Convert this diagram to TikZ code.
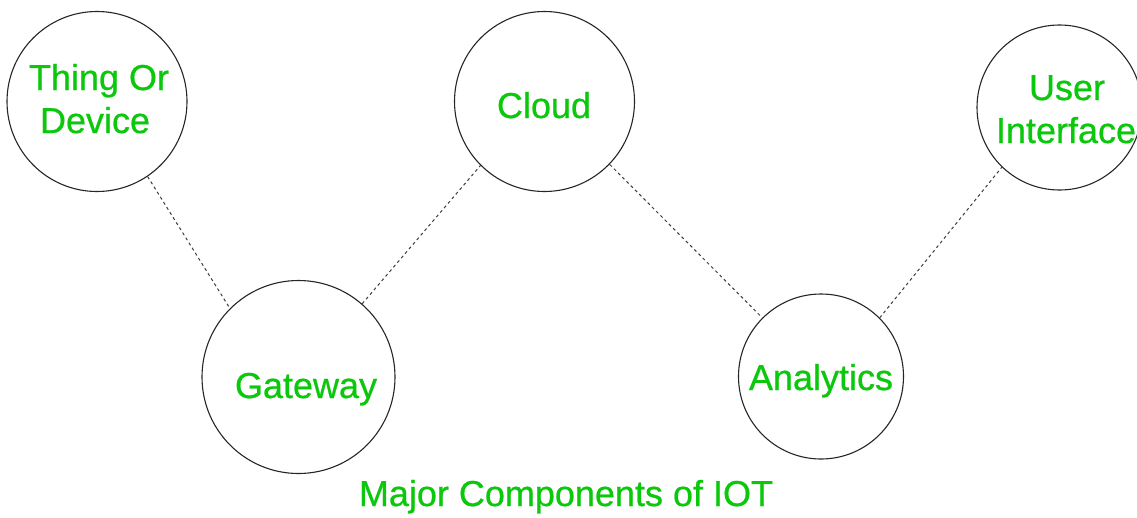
\documentclass[tikz,border=0pt]{standalone}
\usepackage{fontspec}
\setmainfont{Liberation Sans}
\newfontfamily\labelfont[FakeBold=0.7]{Liberation Sans}
\definecolor{labelgreen}{RGB}{12,200,12}
\definecolor{linkgray}{RGB}{60,60,60}
\tikzset{
  part/.style={draw=black!85, line width=1.1pt, circle, inner sep=0pt},
  partlabel/.style={text=labelgreen, font=\labelfont\fontsize{36}{42}\selectfont, align=center, anchor=base, inner sep=0pt},
  link/.style={draw=linkgray, line width=1pt, dash pattern=on 3pt off 3pt},
}
\begin{document}
\begin{tikzpicture}[x=1pt, y=-1pt]
  \useasboundingbox (0,0) rectangle (1137,517);
  \fill[white] (0,0) rectangle (1137,517);

  % components
  \node[part, minimum size=180pt] (thing)     at (97,101.5)   {};
  \node[part, minimum size=180pt] (cloud)     at (544.5,101.5) {};
  \node[part, minimum size=165pt] (ui)        at (1059.5,107.5) {};
  \node[part, minimum size=193pt] (gateway)   at (298.5,377)  {};
  \node[part, minimum size=165pt] (analytics) at (821,376.5)  {};

  % names
  \node[partlabel] (thing-t1) at (99,90)    {Thing Or};
  \node[partlabel] (thing-t2) at (95,133)   {Device};
  \node[partlabel] (cloud-t)  at (544,118)  {Cloud};
  \node[partlabel] (ui-t1)    at (1067,100) {User};
  \node[partlabel] (ui-t2)    at (1066,143) {Interface};
  \node[partlabel] (gw-t)     at (306,398)  {Gateway};
  \node[partlabel] (an-t)     at (821,390)  {Analytics};

  % links
  \draw[link] (thing.-56)    -- (gateway.135);
  \draw[link] (gateway.49)   -- (cloud.-135);
  \draw[link] (cloud.-44.5)  -- (analytics.135.5);
  \draw[link] (analytics.45.5) -- (ui.-134);

  % caption
  \node[partlabel] (caption) at (566,506) {Major Components of IOT};
\end{tikzpicture}
\end{document}
